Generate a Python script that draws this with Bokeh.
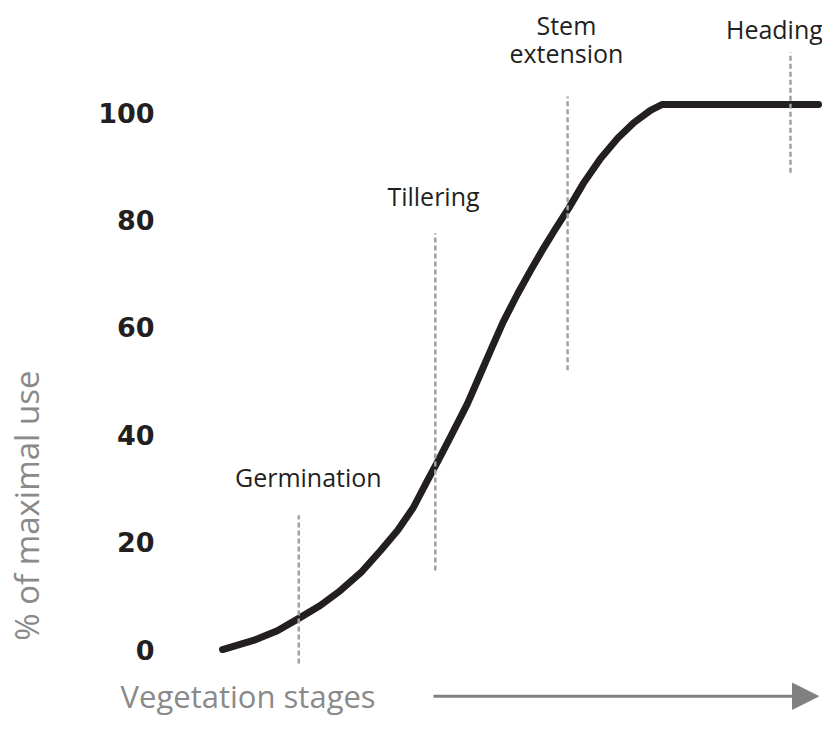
import math
from bokeh.plotting import figure
from bokeh.models import Range1d, LinearAxis, FixedTicker, Arrow, NormalHead
from bokeh.core.properties import value
from bokeh.embed import file_html
from bokeh.resources import INLINE

# ---- data ----
curve_x = [0.00, 0.52, 0.92, 1.28, 1.64, 1.98, 2.32, 2.65, 2.94, 3.20, 3.44,
           3.61, 3.83, 4.11, 4.33, 4.53, 4.71, 4.95, 5.17, 5.39, 5.59, 5.81,
           6.06, 6.34, 6.63, 6.90, 7.18, 7.38, 10.0]
curve_y = [0.0, 1.7, 3.5, 5.8, 8.2, 11.0, 14.3, 18.4, 22.2, 26.4, 31.5,
           35.0, 39.7, 45.8, 51.4, 56.5, 61.0, 66.2, 70.6, 74.8, 78.4, 82.2,
           86.9, 91.4, 95.2, 98.1, 100.4, 101.5, 101.5]

y_ticks = [0, 20, 40, 60, 80, 100]

stage_names = ["Germination", "Tillering", "Stem\nextension", "Heading"]
stage_x = [1.28, 3.57, 5.79, 9.53]
stage_y0 = [-2.6, 14.7, 52.0, 88.8]
stage_y1 = [25.0, 77.5, 103.0, 111.2]
stage_label_x = [1.44, 3.54, 5.77, 9.26]
stage_label_y = [32.2, 84.5, 113.7, 115.6]

x_title = "Vegetation stages"
y_title = "% of maximal use"
x_title_pos = (-1.71, -8.7)
y_title_pos = (-3.29, 26.8)
arrow_x = [3.54, 10.0]
arrow_y = -8.7

# ---- figure ----
p = figure(width=822, height=722,
           x_range=Range1d(-3.725, 10.067), y_range=Range1d(-13.59, 120.86),
           x_axis_type=None, y_axis_type=None,
           output_backend="svg", toolbar_location=None,
           min_border=0, outline_line_color=None)
p.background_fill_color = "white"
p.border_fill_color = "white"

yaxis = LinearAxis(fixed_location=-0.87, ticker=FixedTicker(ticks=y_ticks),
                   axis_line_color=None, major_tick_line_color=None,
                   minor_tick_line_color=None, major_label_standoff=10,
                   major_label_text_font="DejaVu Sans",
                   major_label_text_font_style="bold",
                   major_label_text_font_size="27px",
                   major_label_text_color="#231f20")
p.add_layout(yaxis, "left")

# curve
p.line(curve_x, curve_y, line_color="#231f20", line_width=7,
       line_cap="round", line_join="round")

# stage dashed lines
p.segment(x0=stage_x, y0=stage_y0, x1=stage_x, y1=stage_y1,
          line_color="#9fa1a4", line_width=2.5, line_dash="5 3")

# stage labels
p.text(x=stage_label_x, y=stage_label_y, text=stage_names,
       text_align="center", text_baseline="middle",
       text_font=value("Open Sans"), text_font_size="25px",
       text_color="#231f20", text_line_height=0.8)

# y title
p.text(x=[y_title_pos[0]], y=[y_title_pos[1]], text=[y_title],
       angle=math.pi / 2, text_align="center", text_baseline="middle",
       text_font=value("Open Sans"), text_font_size="33px",
       text_color="#8a8a8a")

# x title + arrow
p.text(x=[x_title_pos[0]], y=[x_title_pos[1]], text=[x_title],
       text_align="left", text_baseline="middle",
       text_font=value("Open Sans"), text_font_size="31px",
       text_color="#8a8a8a")
p.add_layout(Arrow(end=NormalHead(size=26, fill_color="#808080",
                                  line_color="#808080"),
                   x_start=arrow_x[0], y_start=arrow_y,
                   x_end=arrow_x[1], y_end=arrow_y,
                   line_color="#808080", line_width=3))

open("out.html", "w").write(file_html(p, INLINE))
